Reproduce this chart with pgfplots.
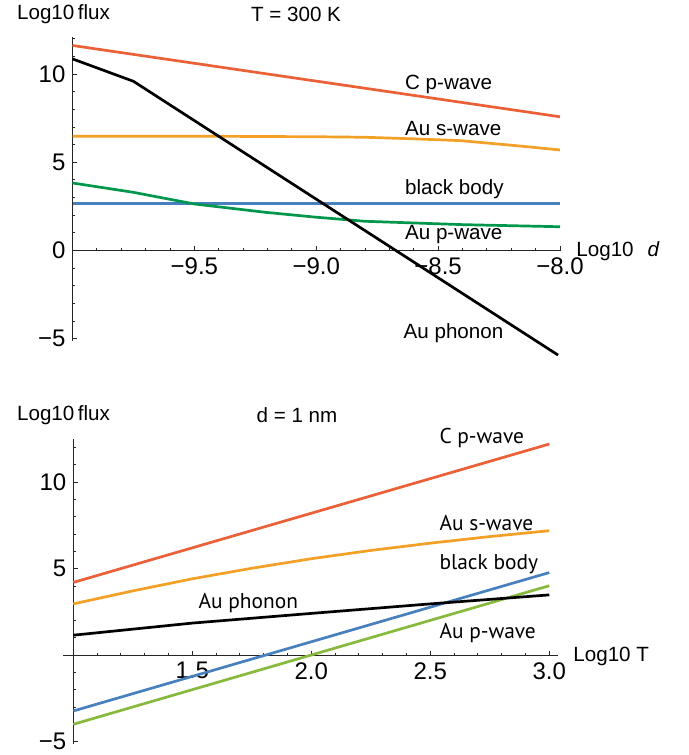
\documentclass[border=0pt]{standalone}
\usepackage{fontspec}
\setmainfont{Liberation Sans}
\newfontfamily\ptsans{PT Sans}
\usepackage{pgfplots}
\pgfplotsset{compat=1.18}
\definecolor{cred}{RGB}{235,96,54}
\definecolor{corange}{RGB}{243,160,38}
\definecolor{cblue}{RGB}{72,128,190}
\definecolor{cgreen}{RGB}{0,150,75}
\definecolor{clgreen}{RGB}{135,185,60}
\pgfplotsset{mystyle/.style={
  scale only axis, axis x line=middle, axis y line=left,
  axis line style={-, line width=0.65pt, black!85},
  tick align=inside, major tick length=2.2pt, minor tick length=1.3pt,
  tick style={black!85, line width=0.5pt},
  tick label style={font=\fontsize{12}{13}\selectfont},
  clip=false, anchor=south west,
  every axis plot/.append style={line width=1.35pt},
}}
\begin{document}
\begin{tikzpicture}
\useasboundingbox (0,0) rectangle (344.5pt,-377.5pt);
% ---------- top ----------
\begin{axis}[mystyle, at={(36.25pt,-170.3pt)}, width=243.75pt, height=151.8pt,
  xmin=-10, xmax=-8, ymin=-5.1, ymax=12.1,
  xtick={-9.5,-9,-8.5,-8}, xticklabels={−9.5,−9.0,−8.5,−8.0},
  minor xtick={-9.9,-9.8,-9.7,-9.6,-9.4,-9.3,-9.2,-9.1,-8.9,-8.8,-8.7,-8.6,-8.4,-8.3,-8.2,-8.1},
  ytick={-5,0,5,10}, yticklabels={−5,0,5,10},
  minor ytick={-4,-3,-2,-1,1,2,3,4,6,7,8,9,11,12},
  hide obscured y ticks=false, hide obscured x ticks=false]
\addplot[cred] coordinates {(-10,11.62) (-8,7.58)};
\addplot[corange] coordinates {(-10,6.48) (-9.5,6.48) (-9.0,6.45) (-8.8,6.42) (-8.6,6.33) (-8.41,6.23) (-8.2,5.97) (-8.0,5.70)};
\addplot[cblue] coordinates {(-10,2.67) (-8,2.67)};
\addplot[cgreen] coordinates {(-10,3.83) (-9.75,3.30) (-9.5,2.64) (-9.21,2.17) (-9.0,1.89) (-8.8,1.66) (-8.4,1.47) (-8.0,1.35)};
\addplot[black] coordinates {(-10,10.86) (-9.75,9.59) (-8.008,-5.92)};
\begin{scope}[every node/.style={anchor=west, font=\fontsize{10.3}{11}\selectfont, inner sep=0pt}]
\node at (axis cs:-8.637,9.42) {C p-wave};
\node at (axis cs:-8.637,6.89) {Au s-wave};
\node at (axis cs:-8.637,3.47) {black body};
\node at (axis cs:-8.637,0.91) {Au p-wave};
\node at (axis cs:-8.643,-4.69) {Au phonon};
\end{scope}
\end{axis}
% ---------- bottom ----------
\begin{axis}[mystyle, at={(36.65pt,-371.75pt)}, width=238pt, height=152.25pt,
  xmin=1, xmax=3, ymin=-5.1, ymax=12.5,
  xtick={1.5,2,2.5,3}, xticklabels={1.5,2.0,2.5,3.0},
  minor xtick={1.1,1.2,1.3,1.4,1.6,1.7,1.8,1.9,2.1,2.2,2.3,2.4,2.6,2.7,2.8,2.9},
  ytick={-5,5,10}, yticklabels={−5,5,10},
  minor ytick={-4,-3,-2,-1,1,2,3,4,6,7,8,9,11,12},
  hide obscured y ticks=false, hide obscured x ticks=false]
\draw[line width=0.65pt, black!85] (axis cs:0.958,0) -- (axis cs:3.038,0);
\addplot[cred] coordinates {(1,4.21) (3,12.21)};
\addplot[corange] coordinates {(1,2.97) (1.25,3.72) (1.5,4.42) (1.75,5.03) (2,5.58) (2.25,6.06) (2.5,6.48) (2.75,6.86) (3,7.2)};
\addplot[cblue] coordinates {(1,-3.22) (3,4.78)};
\addplot[clgreen] coordinates {(1,-3.99) (3,4.02)};
\addplot[black] coordinates {(1,1.16) (1.5,1.86) (2,2.42) (2.5,2.97) (3,3.49)};
\begin{scope}[every node/.style={anchor=west, font=\ptsans\fontsize{10.7}{12}\selectfont, inner sep=0pt}]
\node at (axis cs:2.537,12.54) {C p-wave};
\node at (axis cs:2.537,7.63) {Au s-wave};
\node at (axis cs:2.537,5.26) {black body};
\node at (axis cs:2.537,1.27) {Au p-wave};
\node at (axis cs:1.525,3.04) {Au phonon};
\end{scope}
\end{axis}
% ---------- texts ----------
\begin{scope}[every node/.style={inner sep=0pt}]
\node[font=\fontsize{10.3}{11}\selectfont] at (31.75pt,-7pt) {Log10\,flux};
\node[font=\fontsize{10.3}{11}\selectfont] at (148pt,-7pt) {T = 300 K};
\node[font=\fontsize{10.3}{11}\selectfont] at (31.75pt,-207.5pt) {Log10\,flux};
\node[font=\fontsize{10.3}{11}\selectfont] at (148.5pt,-207.5pt) {d = 1 nm};
\node[anchor=west, font=\fontsize{10.3}{12}\selectfont] at (288pt,-125.5pt) {Log10\hspace{7pt}\textit{d}};
\node[anchor=west, font=\fontsize{10.3}{12}\selectfont] at (286.5pt,-328.3pt) {Log10 T};
\end{scope}
\end{tikzpicture}
\end{document}
